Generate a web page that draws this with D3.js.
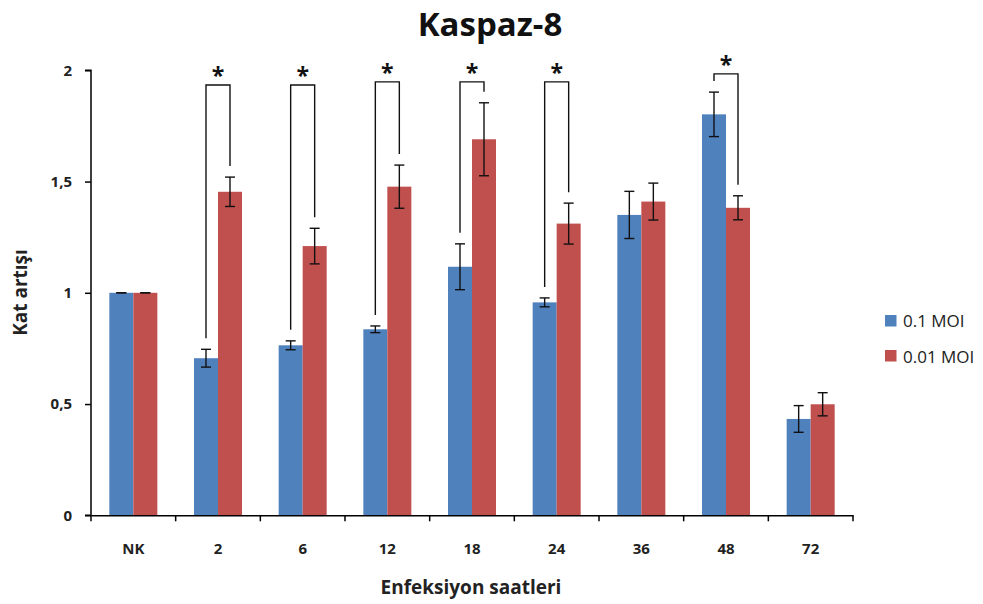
<!DOCTYPE html>
<html><head><meta charset="utf-8">
<script src="https://cdn.jsdelivr.net/npm/d3@7"></script>
<style>body{margin:0;background:#fff}svg{display:block}text{font-family:"Open Sans",sans-serif}</style>
</head><body>
<svg id="c" width="983" height="604"></svg>
<script>
const categories = ["NK","2","6","12","18","24","36","48","72"];
const seriesNames = ["0.1 MOI","0.01 MOI"];
const moi01 = [1.0,0.706,0.764,0.836,1.117,0.957,1.350,1.802,0.433];
const moi001 = [1.0,1.454,1.210,1.477,1.690,1.311,1.410,1.382,0.499];
const err01 = [0,0.04,0.02,0.015,0.103,0.02,0.106,0.10,0.06];
const err001 = [0,0.066,0.08,0.097,0.164,0.092,0.083,0.054,0.052];
// significance brackets: category, bracket level
const sigCats = ["2","6","12","18","24","48"];
const sigLevels = [1.934,1.934,1.948,1.948,1.948,1.984];
const yTicks = [0,0.5,1,1.5,2];
const colors = ["#4F81BD","#C0504D"];

const svg = d3.select("#c");
const x0 = d3.scaleBand().domain(categories).range([91,853]).paddingInner(0.433).paddingOuter(0.2165);
const x1 = d3.scaleBand().domain(seriesNames).range([0,x0.bandwidth()]);
const y = d3.scaleLinear().domain([0,2]).range([515.3,70.3]);

const vals = [moi01,moi001], errs=[err01,err001];

// bars
seriesNames.forEach((s,si)=>{
  svg.append("g").selectAll("rect").data(categories).join("rect")
    .attr("x",c=>x0(c)+x1(s)).attr("width",x1.bandwidth())
    .attr("y",(c,i)=>y(vals[si][i])).attr("height",(c,i)=>y(0)-y(vals[si][i]))
    .attr("fill",colors[si]);
});
// error bars
seriesNames.forEach((s,si)=>{
  const g=svg.append("g").attr("stroke","#111").attr("stroke-width",1.4);
  categories.forEach((c,i)=>{
    const cx=x0(c)+x1(s)+x1.bandwidth()/2, v=vals[si][i], e=errs[si][i];
    g.append("line").attr("x1",cx).attr("x2",cx).attr("y1",y(v+e)).attr("y2",y(v-e));
    g.append("line").attr("x1",cx-5).attr("x2",cx+5).attr("y1",y(v+e)).attr("y2",y(v+e));
    g.append("line").attr("x1",cx-5).attr("x2",cx+5).attr("y1",y(v-e)).attr("y2",y(v-e));
  });
});
// brackets
const bg=svg.append("g");
sigCats.forEach((c,k)=>{
  const i=categories.indexOf(c);
  const xa=x0(c)+x1(seriesNames[0])+x1.bandwidth()/2;
  const xb=x0(c)+x1(seriesNames[1])+x1.bandwidth()/2;
  const top=y(sigLevels[k]);
  const ya=y(moi01[i]+err01[i])-11, yb=y(moi001[i]+err001[i])-11;
  bg.append("path").attr("d",`M${xa},${ya}V${top}H${xb}V${yb}`)
    .attr("fill","none").attr("stroke","#111").attr("stroke-width",1.4);
  bg.append("text").attr("x",(xa+xb)/2).attr("y",top-1).attr("text-anchor","middle")
    .attr("font-size",23).attr("font-weight","bold").attr("fill","#111").text("*");
});

// y axis
const ya=svg.append("g").attr("transform","translate(91,0)")
  .call(d3.axisLeft(y).tickValues(yTicks).tickSize(6).tickPadding(13).tickFormat(d=>String(d).replace(".",",")));
ya.select(".domain").attr("stroke","#000").attr("stroke-width",1.5).attr("d","M-6,70.3H0V515.3H-6");
ya.selectAll(".tick line").attr("stroke","#000").attr("stroke-width",1.5);
ya.selectAll(".tick text").attr("font-size",15).attr("font-weight","bold").attr("fill","#222").attr("font-family","Open Sans");

// x axis
const xa=svg.append("g").attr("transform","translate(0,515.3)")
  .call(d3.axisBottom(x0).tickSize(0).tickPadding(28));
xa.select(".domain").attr("stroke","#000").attr("stroke-width",1.5);
xa.selectAll(".tick text").attr("font-size",15).attr("font-weight","bold").attr("fill","#222").attr("font-family","Open Sans");
const bounds=d3.range(categories.length+1).map(i=>x0.range()[0]+i*x0.step());
xa.selectAll("line.b").data(bounds).join("line").attr("class","b")
  .attr("x1",d=>d).attr("x2",d=>d).attr("y1",0).attr("y2",6).attr("stroke","#000").attr("stroke-width",1.5);

// titles
svg.append("text").attr("x",490).attr("y",36).attr("text-anchor","middle")
  .attr("font-size",33).attr("font-weight","bold").attr("fill","#111").text("Kaspaz-8");
svg.append("text").attr("x",471).attr("y",594).attr("text-anchor","middle")
  .attr("font-size",19).attr("font-weight","bold").attr("fill","#222").text("Enfeksiyon saatleri");
svg.append("text").attr("transform","translate(27,292.5) rotate(-90)").attr("text-anchor","middle")
  .attr("font-size",19).attr("font-weight","bold").attr("fill","#222").text("Kat artışı");

// legend
const lg=svg.append("g");
seriesNames.forEach((s,si)=>{
  lg.append("rect").attr("x",885).attr("y",315+si*35).attr("width",11.5).attr("height",11.5).attr("fill",colors[si]);
  lg.append("text").attr("x",903).attr("y",327+si*35.5).attr("font-size",17).attr("fill","#222").text(s);
});
</script>
</body></html>
